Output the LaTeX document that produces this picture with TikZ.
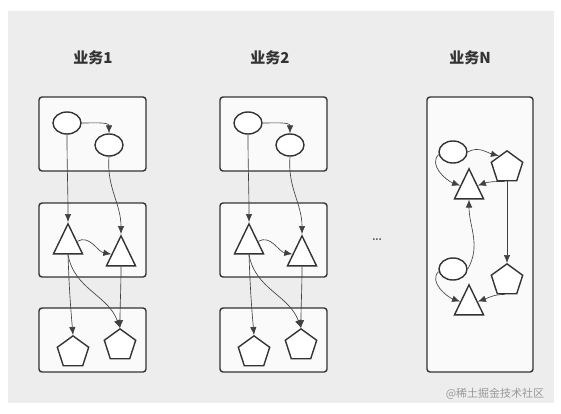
\documentclass[tikz,border=0pt]{standalone}
\usepackage{fontspec}
\newfontfamily\cjkfont{Noto Sans CJK SC}
\usetikzlibrary{shapes.geometric,arrows.meta}

\begin{document}
\begin{tikzpicture}[x=1pt,y=-1pt,
  box/.style={draw=black!80,line width=1.4pt,rounded corners=3pt,fill=black!2},
  circ/.style={ellipse,draw=black!80,line width=1.4pt,fill=white,minimum width=28pt,minimum height=22pt,inner sep=0pt},
  tri/.style={isosceles triangle,isosceles triangle stretches,shape border rotate=90,draw=black!80,line width=1.4pt,fill=white,minimum width=29pt,minimum height=30pt,inner sep=0pt,anchor=apex},
  penta/.style={regular polygon,regular polygon sides=5,draw=black!80,line width=1.4pt,fill=white,minimum size=33pt,inner sep=0pt,anchor=corner 1},
  link/.style={draw=black!75,line width=0.65pt,-{Latex[length=8pt,width=6.5pt]}},
  title/.style={font=\cjkfont\bfseries\fontsize{15}{15}\selectfont,text=black!80}]
\useasboundingbox (0,0) rectangle (561,413);
\fill[white] (0,0) rectangle (561,413);
\fill[black!7] (8,11) rectangle (554,403);

% titles
\node[title] (t1) at (93,58) {业务1};
\node[title] (t2) at (270,58) {业务2};
\node[title] (tn) at (470,58) {业务N};

% boxes
\draw[box] (39,97) rectangle (146,171);
\draw[box] (39,203) rectangle (146,277);
\draw[box] (39,308) rectangle (146,372);
\draw[box] (220,97) rectangle (327,171);
\draw[box] (220,203) rectangle (327,277);
\draw[box] (220,308) rectangle (327,372);
\draw[box] (427,97) rectangle (533,372);

% column 1
\node[circ] (a1) at (67,123) {};
\node[circ] (a2) at (109,145) {};
\node[tri] (b1) at (68,222) {};
\node[tri] (b2) at (121,234) {};
\node[penta] (c1) at (73,335) {};
\node[penta] (c2) at (120,328) {};
\draw[link] (a1.east) to[out=0,in=90] (a2.north);
\draw[link] (a1.south) to[out=-90,in=90] (b1.apex);
\draw[link] (a2.south) to[out=-95,in=90] (b2.apex);
\draw[link] (b1.20) to[out=30,in=170] (b2.165);
\draw[link] (b1.lower side) to[out=-88,in=95] (c1.corner 1);
\draw[link] (b1.lower side) to[out=-80,in=110] (c2.corner 1);
\draw[link] (b2.lower side) to[out=-90,in=90] (c2.corner 1);

% column 2
\node[circ] (a3) at (248,123) {};
\node[circ] (a4) at (290,145) {};
\node[tri] (b3) at (249,222) {};
\node[tri] (b4) at (302,234) {};
\node[penta] (c3) at (254,335) {};
\node[penta] (c4) at (301,328) {};
\draw[link] (a3.east) to[out=0,in=90] (a4.north);
\draw[link] (a3.south) to[out=-90,in=90] (b3.apex);
\draw[link] (a4.south) to[out=-95,in=90] (b4.apex);
\draw[link] (b3.20) to[out=30,in=170] (b4.165);
\draw[link] (b3.lower side) to[out=-88,in=95] (c3.corner 1);
\draw[link] (b3.lower side) to[out=-80,in=110] (c4.corner 1);
\draw[link] (b4.lower side) to[out=-90,in=90] (c4.corner 1);

\node[text=black!65,font=\cjkfont\bfseries\fontsize{9}{9}\selectfont] (dots) at (377,240) {...};

% column N
\node[circ] (d1) at (453,152) {};
\node[penta] (e1) at (507,150) {};
\node[tri] (f1) at (469,167) {};
\node[circ] (d2) at (453,269) {};
\node[penta] (e2) at (507,263) {};
\node[tri] (f2) at (469,283) {};
\draw[link] (d1.east) to[out=30,in=165] (e1.125);
\draw[link] (d1.190) to[out=-135,in=160] (f1.155);
\draw[link] (e1.-100) to[out=180,in=20] (f1.25);
\draw[link] (e1.south) to (e2.corner 1);
\draw[link] (d2.east) to[out=60,in=-90] (f1.lower side);
\draw[link] (d2.190) to[out=-135,in=160] (f2.155);
\draw[link] (e2.-100) to[out=180,in=20] (f2.25);

\node[font=\cjkfont\fontsize{11}{11}\selectfont,text=black!40] (wm) at (495,394) {@稀土掘金技术社区};
\end{tikzpicture}
\end{document}
